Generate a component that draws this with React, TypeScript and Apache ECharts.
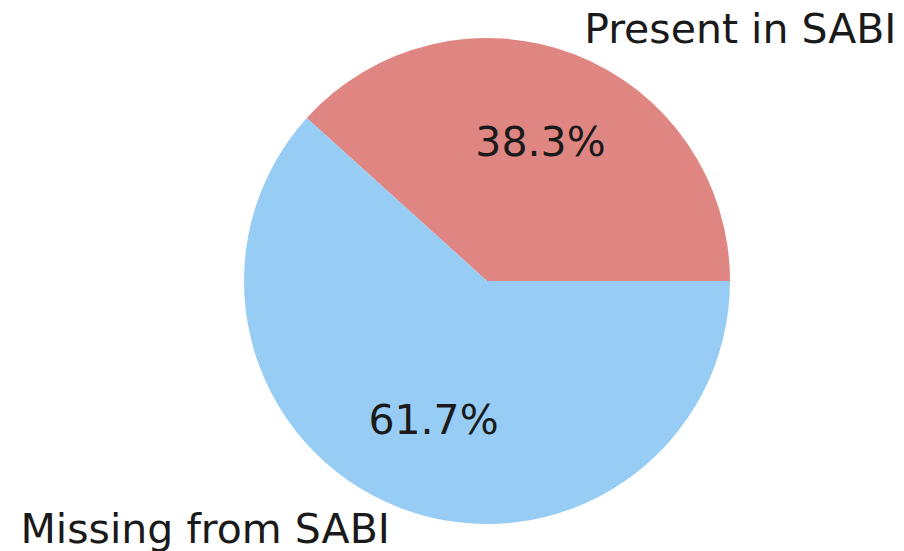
import React, { useEffect, useRef } from "react";
import * as echarts from "echarts";

const categories = ["Present in SABI", "Missing from SABI"];
const shares = [38.3, 61.7];
const colors = ["#E08682", "#97CCF5"];

const CX = 487;
const CY = 281;
const R = 243;
const FONT = "DejaVu Sans";
const FS = 41;

export default function App() {
  const ref = useRef<HTMLDivElement>(null);
  useEffect(() => {
    document.body.style.margin = "0";
    const chart = echarts.init(ref.current!, null, { renderer: "svg" });
    const data = categories.map((name, i) => ({
      name,
      value: shares[i],
      itemStyle: { color: colors[i] },
    }));
    const ghost = categories.map((name, i) => ({
      name,
      value: shares[i],
      itemStyle: { color: "rgba(0,0,0,0)" },
    }));
    chart.setOption({
      animation: false,
      backgroundColor: "#ffffff",
      series: [
        {
          type: "pie",
          center: [CX, CY],
          radius: [0, R],
          startAngle: 0,
          clockwise: false,
          silent: true,
          label: { show: false },
          labelLine: { show: false },
          itemStyle: { borderWidth: 0 },
          data,
        },
        {
          type: "pie",
          center: [CX, CY],
          radius: [R * 0.6 - 1, R * 0.6 + 1],
          startAngle: 0,
          clockwise: false,
          silent: true,
          avoidLabelOverlap: false,
          label: {
            show: true,
            position: "inside",
            formatter: (p: any) => p.value.toFixed(1) + "%",
            fontFamily: FONT,
            fontSize: FS,
            color: "#1a1a1a",
          },
          labelLine: { show: false },
          itemStyle: { borderWidth: 0 },
          data: ghost,
        },
        {
          type: "pie",
          center: [CX, CY],
          radius: [R * 1.1 - 1, R * 1.1 + 1],
          startAngle: 0,
          clockwise: false,
          silent: true,
          avoidLabelOverlap: false,
          label: {
            show: true,
            position: "inside",
            formatter: "{b}",
            fontFamily: FONT,
            fontSize: FS,
            color: "#1a1a1a",
          },
          labelLayout: (p: any) => ({
            dx: p.dataIndex === 0 ? p.labelRect.width / 2 : -p.labelRect.width / 2,
            dy: p.dataIndex === 0 ? 0 : -4,
          }),
          labelLine: { show: false },
          itemStyle: { borderWidth: 0 },
          data: ghost,
        },
      ],
    });
    return () => chart.dispose();
  }, []);
  return (
    <div
      ref={ref}
      style={{ position: "absolute", left: 0, top: 0, width: 904, height: 551 }}
    />
  );
}
